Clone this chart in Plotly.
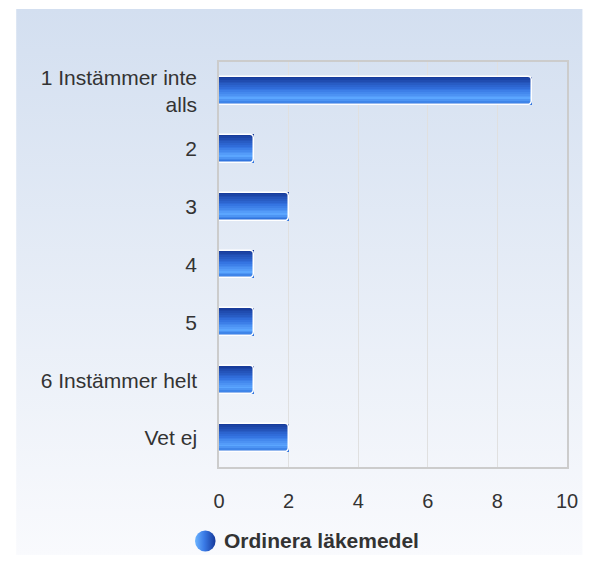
import base64
import plotly.graph_objects as go

# Data
categories = ["1 Instämmer inte<br>alls", "2", "3", "4", "5", "6 Instämmer helt", "Vet ej"]
counts = [9, 1, 2, 1, 1, 1, 2]
series_name = "Ordinera läkemedel"
x_ticks = [0, 2, 4, 6, 8, 10]

# gradient stops for the bars (top -> bottom)
stops = [(0.0, (0x16, 0x38, 0x96)), (0.45, (0x33, 0x72, 0xe0)),
         (0.78, (0x5b, 0xa6, 0xff)), (1.0, (0x2a, 0x6c, 0xd8))]


def grad_color(t):
    for (t0, c0), (t1, c1) in zip(stops, stops[1:]):
        if t <= t1:
            f = (t - t0) / (t1 - t0)
            c = [round(a + (b - a) * f) for a, b in zip(c0, c1)]
            return "rgb(%d,%d,%d)" % tuple(c)
    return "rgb(%d,%d,%d)" % stops[-1][1]


def svg_uri(svg):
    return "data:image/svg+xml;base64," + base64.b64encode(svg.encode()).decode()


bar_w = 0.48
n_strips = 16

fig = go.Figure()

# bar body built from thin horizontal strips to fake the vertical gradient
for i in range(n_strips):
    fig.add_trace(go.Bar(
        x=counts, y=categories, orientation="h",
        width=bar_w / n_strips, offset=-bar_w / 2 + i * bar_w / n_strips,
        marker=dict(color=grad_color((i + 0.5) / n_strips), line=dict(width=0)),
        showlegend=False, hoverinfo="skip"))

# white rounded outline on top
fig.add_trace(go.Bar(
    x=counts, y=categories, orientation="h", width=bar_w, name=series_name,
    marker=dict(color="rgba(0,0,0,0)", line=dict(color="white", width=1.5), cornerradius=4),
    showlegend=False))

# background panel gradient
bg_svg = ('<svg xmlns="http://www.w3.org/2000/svg" width="100" height="100" viewBox="0 0 100 100" '
          'preserveAspectRatio="none"><defs><linearGradient id="g" x1="0" y1="0" x2="0" y2="1">'
          '<stop offset="0" stop-color="#d3dff0"/><stop offset="1" stop-color="#f9fafd"/>'
          '</linearGradient></defs><rect width="100" height="100" fill="url(#g)"/></svg>')

# legend symbol: circle with a horizontal gradient
dot_svg = ('<svg xmlns="http://www.w3.org/2000/svg" width="44" height="44" viewBox="0 0 44 44">'
           '<defs><linearGradient id="d" x1="0" y1="0" x2="1" y2="0">'
           '<stop offset="0" stop-color="#6cb4ff"/><stop offset="0.45" stop-color="#3a7ae6"/>'
           '<stop offset="1" stop-color="#15389a"/></linearGradient></defs>'
           '<circle cx="22" cy="22" r="21" fill="url(#d)"/></svg>')

legend_y = -0.1827

# page body adds an 8px margin on every side; keep the figure inside the window
fig.update_layout(
    width=582, height=547,
    margin=dict(l=211, r=16, t=54, b=88),
    paper_bgcolor="white", plot_bgcolor="rgba(0,0,0,0)",
    font=dict(family="Liberation Sans, Arial, sans-serif", size=21, color="#333333"),
    barmode="overlay", bargap=0,
    showlegend=False,
    images=[
        dict(source=svg_uri(bg_svg), xref="paper", yref="paper",
             x=-0.583, y=1.131, sizex=1.628, sizey=1.348,
             xanchor="left", yanchor="top", sizing="stretch", layer="below"),
        dict(source=svg_uri(dot_svg), xref="paper", yref="paper",
             x=-0.0394, y=legend_y, sizex=22 / 355, sizey=22 / 405,
             xanchor="center", yanchor="middle", sizing="stretch", layer="above"),
    ],
    annotations=[dict(text="<b>" + series_name + "</b>", xref="paper", yref="paper",
                      x=0.0085, y=legend_y, xanchor="left", yanchor="middle", showarrow=False,
                      font=dict(size=21, color="#333333"))],
    xaxis=dict(range=[0, 10], tickvals=x_ticks, showgrid=True, gridcolor="#e0e0e0", gridwidth=1,
               zeroline=False, showline=True, mirror=True, linecolor="#cccccc", linewidth=1.5,
               tickfont=dict(size=20),
               ticks="outside", ticklen=15, tickcolor="rgba(0,0,0,0)", fixedrange=True),
    yaxis=dict(autorange="reversed", showgrid=False, zeroline=False, showline=True, mirror=True,
               linecolor="#cccccc", linewidth=1.5,
               ticks="outside", ticklen=16, tickcolor="rgba(0,0,0,0)", fixedrange=True),
)

fig.write_html("out.html")
